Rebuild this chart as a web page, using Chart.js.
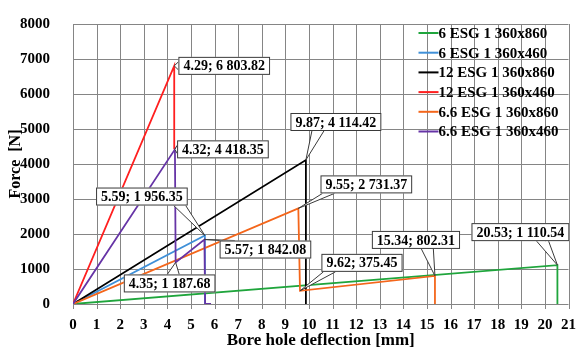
<!DOCTYPE html>
<html>
<head>
<meta charset="utf-8">
<script src="https://cdn.jsdelivr.net/npm/chart.js@4.4.1/dist/chart.umd.min.js"></script>
<style>
  html, body { margin: 0; padding: 0; background: #fff; }
  #wrap { width: 580px; height: 351px; }
</style>
</head>
<body>
<div id="wrap"><canvas id="chart" width="580" height="351"></canvas></div>
<script>
// --- data ---
const seriesNames = ['6 ESG 1 360x860', '6 ESG 1 360x460', '12 ESG 1 360x860',
                     '12 ESG 1 360x460', '6.6 ESG 1 360x860', '6.6 ESG 1 360x460'];
const seriesColors = ['#1fa53c', '#3f90d8', '#000000', '#ff1f1f', '#f4661b', '#6634a6'];

const greenX  = [0, 20.53, 20.53];
const greenY  = [0, 1110.54, 0];
const blueX   = [0, 5.59, 5.59];
const blueY   = [0, 1956.35, 0];
const blackX  = [0, 9.87, 9.87];
const blackY  = [0, 4114.42, 0];
const redX    = [0, 4.29, 4.29];
const redY    = [0, 6803.82, 4418.35];
const orangeX = [0, 9.55, 9.62, 15.34, 15.34];
const orangeY = [0, 2731.37, 375.45, 802.31, 0];
const purpleX = [0, 4.32, 4.35, 5.57, 5.6, 5.85];
const purpleY = [0, 4418.35, 1187.68, 1842.08, 0, 0];

const xTicks = [0, 1, 2, 3, 4, 5, 6, 7, 8, 9, 10, 11, 12, 13, 14, 15, 16, 17, 18, 19, 20, 21];
const yTicks = [0, 1000, 2000, 3000, 4000, 5000, 6000, 7000, 8000];

// callouts: which series / point, and where the box sits relative to the point (px)
const callouts = [
  { s: 3, p: 1, dx: 50, dy: 0 },
  { s: 5, p: 1, dx: 48, dy: 0 },
  { s: 2, p: 1, dx: 30, dy: -38 },
  { s: 4, p: 1, dx: 68, dy: -24 },
  { s: 1, p: 1, dx: -63, dy: -39 },
  { s: 5, p: 3, dx: 61, dy: 10 },
  { s: 5, p: 2, dx: -6, dy: 21 },
  { s: 4, p: 2, dx: 62, dy: -28 },
  { s: 4, p: 3, dx: -19, dy: -36 },
  { s: 0, p: 1, dx: -37, dy: -33 }
];

const FONT = "'Liberation Serif', 'Times New Roman', serif";

function pts(xs, ys) {
  return xs.map((x, i) => ({ x: x, y: ys[i] }));
}

function fmtY(v) {
  const parts = v.toFixed(2).split('.');
  parts[0] = parts[0].replace(/\B(?=(\d{3})+(?!\d))/g, ' ');
  return parts.join('.');
}

const allX = [greenX, blueX, blackX, redX, orangeX, purpleX];
const allY = [greenY, blueY, blackY, redY, orangeY, purpleY];

const datasets = seriesNames.map((name, i) => ({
  label: name,
  data: pts(allX[i], allY[i]),
  borderColor: seriesColors[i],
  backgroundColor: seriesColors[i],
  borderWidth: 1.8,
  pointRadius: 0,
  fill: false,
  tension: 0,
  order: seriesNames.length - i   // later series drawn on top, like the original
}));

// plot grid, drawn from the scales' own ticks
function drawGrid(chart) {
  const ctx = chart.ctx;
  const a = chart.chartArea;
  const xs = chart.scales.x, ys = chart.scales.y;
  ctx.save();
  ctx.strokeStyle = '#858585';
  ctx.lineWidth = 1;
  xTicks.forEach(v => {
    const x = Math.round(xs.getPixelForValue(v)) + 0.5;
    ctx.beginPath();
    ctx.moveTo(x, a.top);
    ctx.lineTo(x, a.bottom + 5);
    ctx.stroke();
  });
  yTicks.forEach(v => {
    const y = Math.round(ys.getPixelForValue(v)) + 0.5;
    ctx.beginPath();
    ctx.moveTo(a.left, y);
    ctx.lineTo(a.right, y);
    ctx.stroke();
  });
  ctx.restore();
}

const gridPlugin = {
  id: 'plotGrid',
  beforeDatasetsDraw(chart) { drawGrid(chart); }
};

// legend drawn inside the plot, top right
const legendPlugin = {
  id: 'innerLegend',
  afterDatasetsDraw(chart) {
    const ctx = chart.ctx;
    const area = chart.chartArea;
    const x0 = area.right - 150;
    const y0 = area.top + 9;
    ctx.save();
    ctx.font = 'bold 15px ' + FONT;
    ctx.textBaseline = 'middle';
    ctx.textAlign = 'left';
    chart.data.datasets.forEach((ds, i) => {
      const y = y0 + i * 19.7;
      ctx.strokeStyle = ds.borderColor;
      ctx.lineWidth = 2;
      ctx.beginPath();
      ctx.moveTo(x0, y);
      ctx.lineTo(x0 + 20, y);
      ctx.stroke();
      ctx.fillStyle = '#000';
      ctx.fillText(ds.label, x0 + 20, y + 1);
    });
    ctx.restore();
  }
};

// callout boxes with a wedge to the data point
const calloutPlugin = {
  id: 'callouts',
  afterDatasetsDraw(chart) {
    const ctx = chart.ctx;
    const xs = chart.scales.x, ys = chart.scales.y;
    ctx.save();
    ctx.font = 'bold 14px ' + FONT;
    ctx.textAlign = 'center';
    ctx.textBaseline = 'middle';
    callouts.forEach(c => {
      const xv = allX[c.s][c.p], yv = allY[c.s][c.p];
      const px = xs.getPixelForValue(xv), py = ys.getPixelForValue(yv);
      const text = xv.toFixed(2) + '; ' + fmtY(yv);
      const w = ctx.measureText(text).width + 10, h = 18;
      const cx = px + c.dx, cy = py + c.dy;
      const L = cx - w / 2, R = cx + w / 2, T = cy - h / 2, B = cy + h / 2;
      // wedge base on the side facing the point
      let b1, b2;
      const half = 6;
      if (py > B || py < T) {
        const ey = py > B ? B : T;
        let bx = cx + (px - cx) * 0.6;
        bx = Math.min(Math.max(bx, L + half + 2), R - half - 2);
        b1 = [bx - half, ey]; b2 = [bx + half, ey];
      } else {
        const ex = px > R ? R : L;
        b1 = [ex, cy - 4]; b2 = [ex, cy + 4];
      }
      ctx.fillStyle = '#fff';
      ctx.strokeStyle = '#3a3a3a';
      ctx.lineWidth = 1;
      ctx.beginPath();
      ctx.moveTo(b1[0], b1[1]);
      ctx.lineTo(px, py);
      ctx.lineTo(b2[0], b2[1]);
      ctx.closePath();
      ctx.fill();
      ctx.beginPath();
      ctx.moveTo(b1[0], b1[1]);
      ctx.lineTo(px, py);
      ctx.lineTo(b2[0], b2[1]);
      ctx.stroke();
      ctx.fillRect(L, T, w, h);
      ctx.strokeRect(L + 0.5, T + 0.5, w - 1, h - 1);
      ctx.fillStyle = '#000';
      ctx.fillText(text, cx, cy + 1);
    });
    ctx.restore();
  }
};

new Chart(document.getElementById('chart'), {
  type: 'line',
  data: { datasets: datasets },
  options: {
    responsive: false,
    animation: false,
    layout: { padding: { top: 16, right: 10, left: 6, bottom: 0 } },
    plugins: {
      legend: { display: false },
      tooltip: { enabled: false }
    },
    scales: {
      x: {
        type: 'linear',
        min: xTicks[0], max: xTicks[xTicks.length - 1],
        afterFit: s => { s.height = 47; },
        grid: { display: false },
        border: { display: false },
        ticks: { stepSize: 1, color: '#000', font: { family: FONT, size: 15, weight: 'bold' }, padding: 4,
                 maxRotation: 0, autoSkip: false, callback: v => String(v) },
        title: { display: true, text: 'Bore hole deflection [mm]', color: '#000',
                 font: { family: FONT, size: 17, weight: 'bold' }, padding: { top: 0, bottom: 0 } }
      },
      y: {
        type: 'linear',
        min: yTicks[0], max: yTicks[yTicks.length - 1],
        afterFit: s => { s.width = 67; },
        grid: { display: false },
        border: { display: false },
        ticks: { stepSize: yTicks[1] - yTicks[0], color: '#000', font: { family: FONT, size: 15, weight: 'bold' },
                 padding: 15, callback: v => String(v) },
        title: { display: true, text: 'Force  [N]', color: '#000',
                 font: { family: FONT, size: 16, weight: 'bold' }, padding: { top: 0, bottom: 0 } }
      }
    }
  },
  plugins: [gridPlugin, legendPlugin, calloutPlugin]
});
</script>
</body>
</html>
